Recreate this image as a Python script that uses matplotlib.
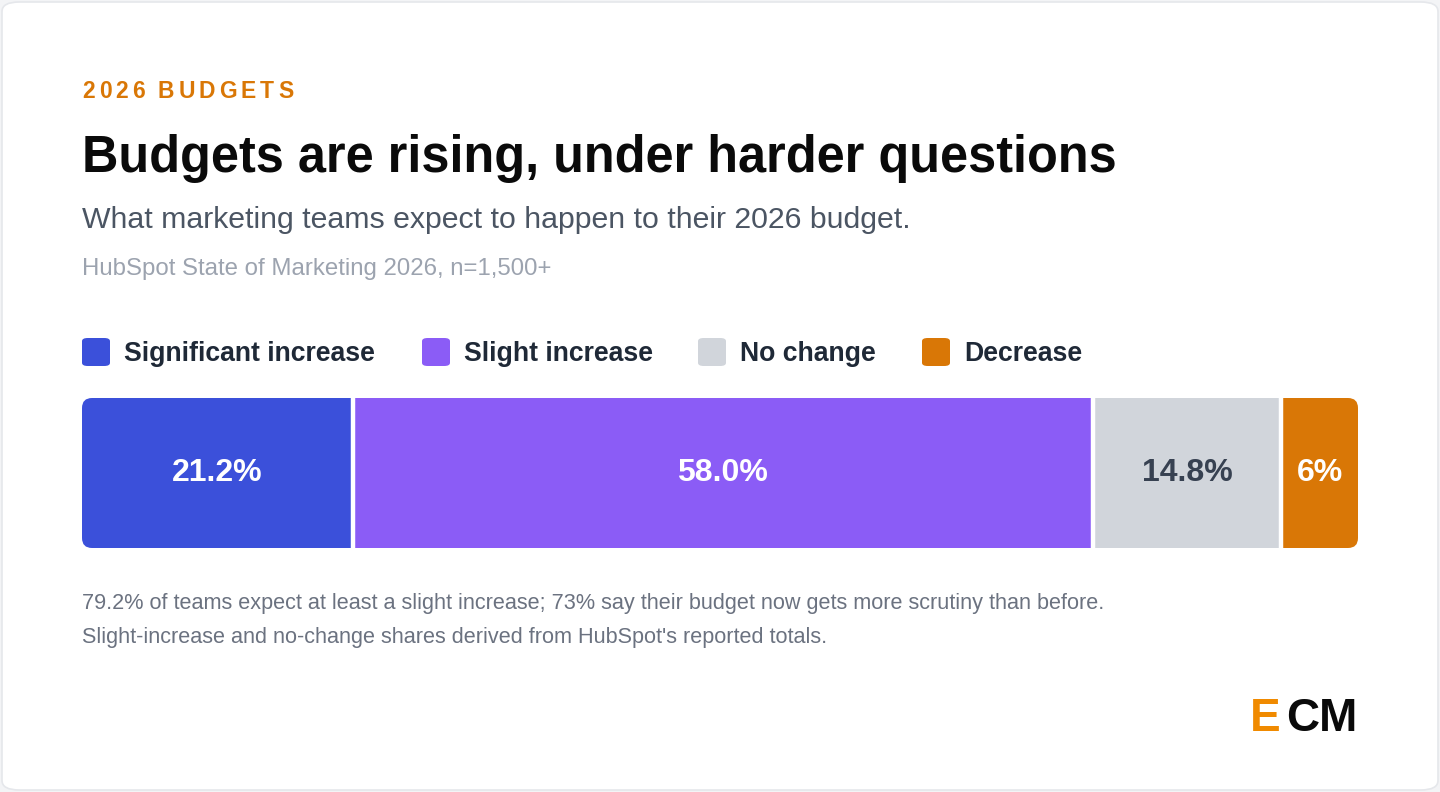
import matplotlib
matplotlib.use("Agg")
import matplotlib.pyplot as plt
from matplotlib.patches import FancyBboxPatch, BoxStyle
from matplotlib.transforms import Affine2D
from matplotlib.textpath import TextPath
from matplotlib.font_manager import FontProperties

categories = ["Significant increase", "Slight increase", "No change", "Decrease"]
values = [21.2, 58.0, 14.8, 6.0]
labels = ["21.2%", "58.0%", "14.8%", "6%"]
colors = ["#3B50DA", "#8B5CF6", "#D1D5DB", "#D97706"]
label_colors = ["white", "white", "#374151", "white"]

W, H = 1440, 792
fig = plt.figure(figsize=(14.4, 7.92), dpi=100)
fig.patch.set_facecolor("#F3F4F6")
FONT = "Liberation Sans"

def px(x, y):
    return x / W, 1 - y / H

card = FancyBboxPatch((2 / W, 2 / H), 1436 / W, 788 / H, boxstyle="round,pad=0,rounding_size=0.012",
                      transform=fig.transFigure, facecolor="white", edgecolor="#E5E7EB", lw=1.2,
                      zorder=-10)
fig.patches.append(card)

def t(x, y, s, size, color, weight="normal", ha="left", va="baseline", **kw):
    fig.text(*px(x, y), s, fontsize=size, color=color, fontweight=weight, ha=ha, va=va,
             family=FONT, **kw)

# kicker with letter spacing
kx = 82
fp = FontProperties(family=FONT, weight="bold", size=16.5)
for ch in "2026 BUDGETS":
    if ch == " ":
        kx += 9
        continue
    t(kx, 98, ch, 16.5, "#D97706", "bold")
    w = TextPath((0, 0), ch, prop=fp).get_extents().x1
    kx += w * 100 / 72 + 4.9

t(82, 172, "Budgets are rising, under harder questions", 36.4, "#0A0A0A", "bold")
t(82, 228, "What marketing teams expect to happen to their 2026 budget.", 21.8, "#4B5563")
t(82, 275, "HubSpot State of Marketing 2026, n=1,500+", 17.3, "#9CA3AF")
t(82, 609, "79.2% of teams expect at least a slight increase; 73% say their budget now gets more scrutiny than before.", 15.6, "#6B7280")
t(82, 643, "Slight-increase and no-change shares derived from HubSpot's reported totals.", 15.6, "#6B7280")

# ECM logo
t(1250, 731, "E", 33, "#F08A00", "bold")
t(1358, 731, "CM", 33, "#0A0A0A", "bold", ha="right")

# legend
lx = [82, 422, 698, 922]
for x, c, name in zip(lx, colors, categories):
    sq = FancyBboxPatch((x / W, 1 - 366 / H), 28 / W, 28 / H, boxstyle="round,pad=0,rounding_size=0.004",
                        transform=fig.transFigure, facecolor=c, edgecolor="none")
    fig.patches.append(sq)
    t(x + 42, 361, name, 19.2, "#1F2937", "bold")

# bar
BW, BH = 1276, 150
ax = fig.add_axes([82 / W, 1 - 548 / H, BW / W, BH / H])
ax.set_zorder(5)
left = 0
bars = []
for i, (v, c, lab, lc) in enumerate(zip(values, colors, labels, label_colors)):
    b = ax.barh(0, v, left=left, height=1, color=c, edgecolor="none", linewidth=0)
    bars.append(b[0])
    ax.text(left + v / 2, 0, lab, ha="center", va="center", fontsize=23, fontweight="bold",
            color=lc, family=FONT, zorder=5)
    left += v
    if i < len(values) - 1:
        ax.axvline(left, color="white", lw=3.2, zorder=4)
ax.set_xlim(0, sum(values))
ax.set_ylim(-0.5, 0.5)
ax.axis("off")
rpath = BoxStyle.Round(pad=0, rounding_size=10)(0, 0, BW, BH, 1)
rtrans = Affine2D().scale(1 / BW, 1 / BH) + ax.transAxes
for b in bars:
    b.set_clip_path(rpath, rtrans)

fig.savefig("out.png", dpi=100, facecolor=fig.get_facecolor())
